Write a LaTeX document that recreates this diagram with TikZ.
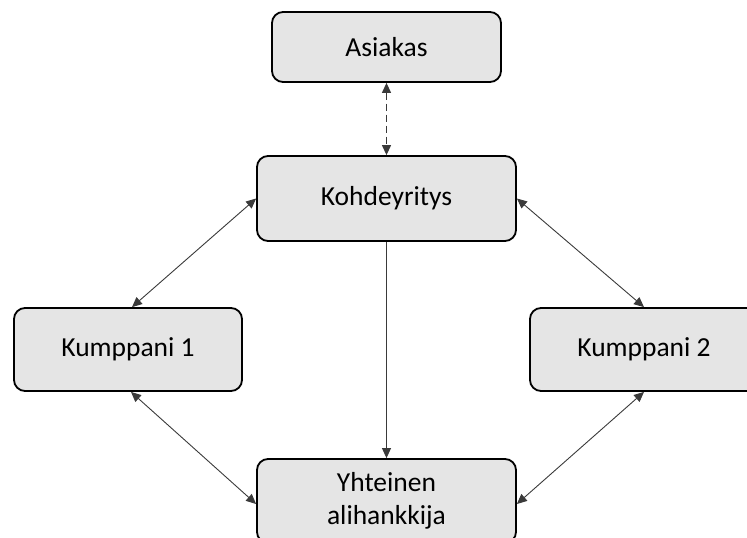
\documentclass[tikz,border=0pt]{standalone}
\usepackage{fontspec}
\setmainfont{Carlito}
\usetikzlibrary{arrows.meta}
\definecolor{boxfill}{HTML}{E5E5E5}
\definecolor{linkgray}{HTML}{3A3A3A}
\begin{document}
\begin{tikzpicture}[x=1pt,y=-1pt,
  unit/.style={draw=black, line width=1.8pt, fill=boxfill, rounded corners=11pt,
    align=center, inner sep=0pt, font=\fontsize{27.5}{33}\selectfont},
  link/.style={draw=linkgray, line width=0.9pt,
    arrows={Triangle[length=10pt,width=9pt]-Triangle[length=10pt,width=9pt]}},
  oneway/.style={draw=linkgray, line width=0.9pt, -{Triangle[length=10pt,width=9pt]}},
  loose/.style={draw=linkgray, line width=1.2pt, dash pattern=on 7pt off 4pt,
    arrows={Triangle[length=10pt,width=9pt]-Triangle[length=10pt,width=9pt]}}]
  \useasboundingbox (0,0) rectangle (747,538);

  \node[unit, minimum width=229pt, minimum height=70pt] (asiakas) at (386.5,47) {Asiakas};
  \node[unit, minimum width=259pt, minimum height=85pt] (kohde) at (386.5,198.5) {Kohdeyritys};
  \node[unit, minimum width=228pt, minimum height=83pt] (k1) at (128,349.5) {Kumppani 1};
  \node[unit, minimum width=228pt, minimum height=83pt] (k2) at (644,349.5) {Kumppani 2};
  \node[unit, minimum width=259pt, minimum height=84pt] (yht) at (386.5,501) {Yhteinen\\alihankkija};

  \draw[loose] (asiakas.south) -- (kohde.north);
  \draw[link] ([xshift=4pt]k1.north) -- (kohde.west);
  \draw[link] (kohde.east) -- (k2.north);
  \draw[link] ([xshift=3pt]k1.south) -- ([yshift=-3pt]yht.west);
  \draw[link] (k2.south) -- ([yshift=-3pt]yht.east);
  \draw[oneway] (kohde.south) -- (yht.north);
\end{tikzpicture}
\end{document}
